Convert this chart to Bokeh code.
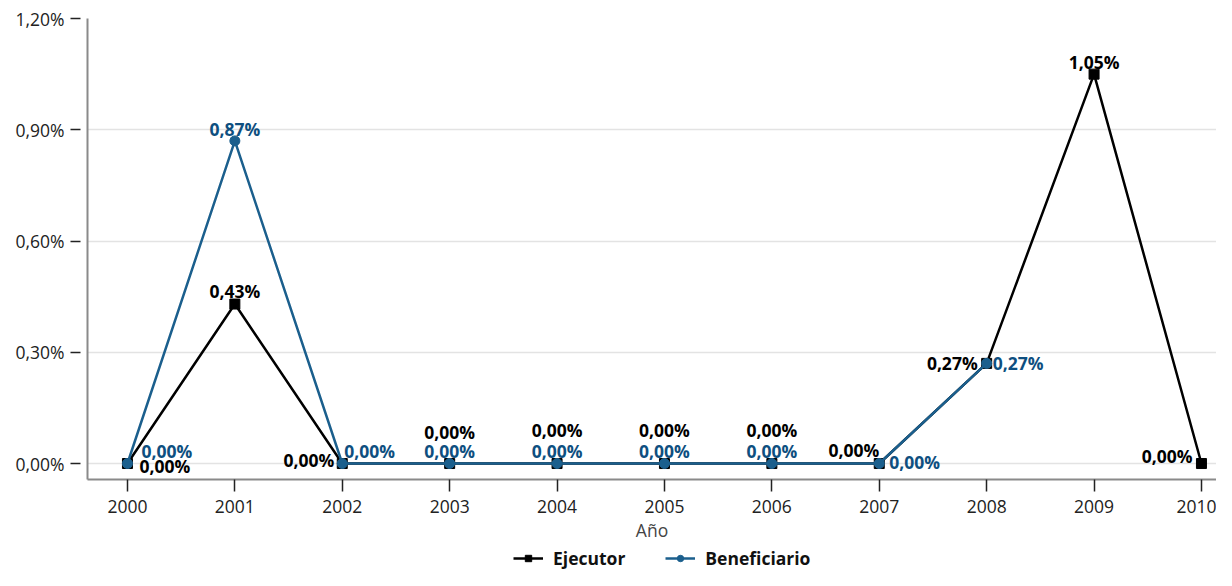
from bokeh.plotting import figure
from bokeh.layouts import column
from bokeh.models import (ColumnDataSource, LabelSet, Legend, LegendItem,
                          FixedTicker, Range1d)
from bokeh.core.properties import value
from bokeh.embed import file_html
from bokeh.resources import INLINE

# ---- data ----
years = [2000, 2001, 2002, 2003, 2004, 2005, 2006, 2007, 2008, 2009, 2010]
ejecutor = [0.00, 0.43, 0.00, 0.00, 0.00, 0.00, 0.00, 0.00, 0.27, 1.05, 0.00]
beneficiario = [0.00, 0.87, 0.00, 0.00, 0.00, 0.00, 0.00, 0.00, 0.27, None, None]
y_ticks = [0.0, 0.3, 0.6, 0.9, 1.2]
y_tick_labels = ["0,00%", "0,30%", "0,60%", "0,90%", "1,20%"]
x_label = "Año"
series_names = ["Ejecutor", "Beneficiario"]

# ---- label placement (pixels) ----
ej_dx = [12, 0, -8, 0, 0, 0, 0, 0, -9, 0, -9]
ej_dy = [-2, 13, 4, 32, 34, 34, 34, 14, 0, 12, 8]
ej_align = ["left", "center", "right", "center", "center", "center", "center",
            "right", "right", "center", "right"]
be_dx = [14, 0, 2, 0, 0, 0, 0, 10, 6]
be_dy = [13, 12, 13, 13, 13, 13, 13, 2, 0]
be_align = ["left", "center", "left", "center", "center", "center", "center",
            "left", "left"]

BLACK = "#000000"
BLUE = "#1b5f8d"
BLUE_TXT = "#0e4f80"
FONT = "Open Sans"
FS = "17.5px"


def fmt(v):
    return f"{v:.2f}%".replace(".", ",")


ej_src = ColumnDataSource(dict(x=years, y=ejecutor,
                               lab=[fmt(v) for v in ejecutor],
                               dx=ej_dx, dy=ej_dy, al=ej_align))
bx = [y for y, v in zip(years, beneficiario) if v is not None]
bv = [v for v in beneficiario if v is not None]
be_src = ColumnDataSource(dict(x=bx, y=bv, lab=[fmt(v) for v in bv],
                               dx=be_dx, dy=be_dy, al=be_align))
sources = [ej_src, be_src]

p = figure(width=1216, height=549, output_backend="svg", toolbar_location=None,
           x_range=Range1d(1999.628, 2010.14), y_range=Range1d(-0.0431, 1.2),
           min_border_left=87, min_border_top=18, min_border_right=0,
           min_border_bottom=70)
p.outline_line_color = None
p.background_fill_color = "white"

line_styles = [dict(line_color=BLACK, line_width=2.5),
               dict(line_color=BLUE, line_width=2.5)]
marker_styles = [dict(marker="square", size=10, fill_color=BLACK, line_color=BLACK),
                 dict(marker="circle", size=10, fill_color=BLUE, line_color=BLUE)]

# lines + markers
for src, ls_, ms_ in zip(sources, line_styles, marker_styles):
    p.line("x", "y", source=src, **ls_)
    p.scatter("x", "y", source=src, **ms_)

# data labels
for src, col in zip(sources, (BLACK, BLUE_TXT)):
    ls = LabelSet(x="x", y="y", text="lab", source=src, x_offset="dx",
                  y_offset="dy", text_align="al", text_baseline="middle",
                  text_font=value(FONT), text_font_style="bold",
                  text_font_size=FS, text_color=col)
    p.add_layout(ls)

# axes
p.xgrid.grid_line_color = None
p.ygrid.grid_line_color = "#e3e3e3"
p.ygrid.grid_line_width = 1.5
p.yaxis.ticker = FixedTicker(ticks=y_ticks)
p.yaxis.major_label_overrides = {t: l for t, l in zip(y_ticks, y_tick_labels)}
p.xaxis.ticker = FixedTicker(ticks=years)
p.xaxis.major_label_overrides = {y: str(y) for y in years}
p.xaxis.axis_label = x_label

for ax in (p.xaxis, p.yaxis):
    ax.axis_line_color = "#8a8a8a"
    ax.axis_line_width = 2
    ax.major_tick_line_color = "#222222"
    ax.major_tick_line_width = 1.5
    ax.minor_tick_line_color = None
    ax.major_label_text_font = FONT
    ax.major_label_text_font_size = FS
    ax.major_label_text_color = "#222222"
    ax.axis_label_text_font = FONT
    ax.axis_label_text_font_size = FS
    ax.axis_label_text_font_style = "normal"
    ax.axis_label_text_color = "#444444"

p.xaxis.major_tick_in = 0
p.xaxis.major_tick_out = 12
p.xaxis.major_label_standoff = 8
p.xaxis.axis_label_standoff = 2
p.yaxis.major_tick_in = -7
p.yaxis.major_tick_out = 17
p.yaxis.major_label_standoff = 6

# legend strip below the chart (series lie outside its range, only the
# legend itself is visible)
lf = figure(width=1216, height=21, output_backend="svg", toolbar_location=None,
            x_axis_type=None, y_axis_type=None, min_border=0,
            x_range=Range1d(0, 1), y_range=Range1d(0, 1))
lf.outline_line_color = None
lf.xgrid.visible = False
lf.ygrid.visible = False
items = []
for name, src, ls_, ms_ in zip(series_names, sources, line_styles, marker_styles):
    r1 = lf.line("x", "y", source=src, **ls_)
    r2 = lf.scatter("x", "y", source=src, **ms_)
    items.append(LegendItem(label=name, renderers=[r1, r2]))
legend = Legend(items=items, orientation="horizontal", location=(426, 0),
                label_text_font=FONT, label_text_font_size=FS,
                label_text_font_style="bold", label_text_color="#111111",
                glyph_width=30, glyph_height=16, label_height=18, spacing=40,
                padding=0, margin=0, label_standoff=10, border_line_color=None,
                background_fill_alpha=0)
lf.add_layout(legend)

layout = column(p, lf, spacing=0)
open("out.html", "w").write(file_html(layout, INLINE))
